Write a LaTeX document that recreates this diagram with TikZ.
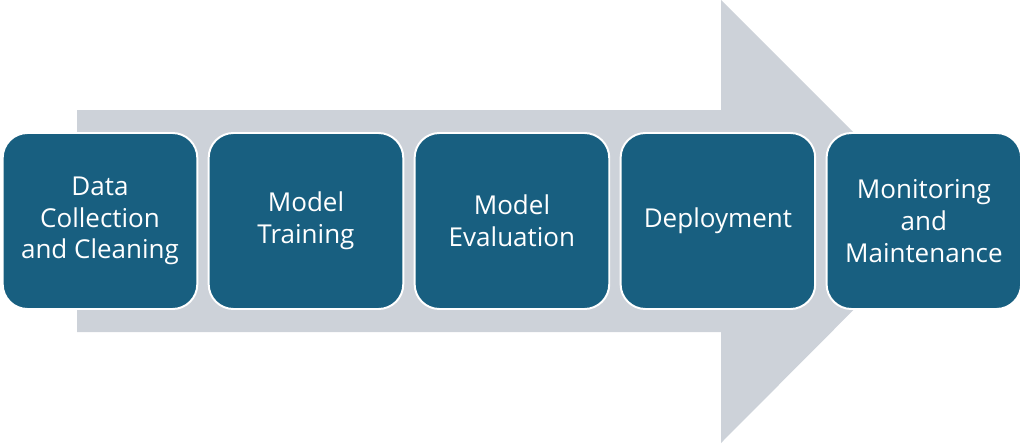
\documentclass[tikz,border=0pt]{standalone}
\usepackage{fontspec}
\setmainfont{Open Sans}
\usetikzlibrary{positioning}

\definecolor{stagefill}{HTML}{185F80}
\definecolor{flowgray}{HTML}{CDD2D9}

\tikzset{
    stage/.style={rectangle, rounded corners=0.62cm, fill=stagefill, draw=white,
        line width=1.4pt, text=white, align=center, font=\fontsize{18.5}{22.5}\selectfont,
        minimum width=4.865cm, minimum height=4.4cm, inner sep=2pt},
    flow/.style={fill=flowgray, draw=none}
}

\begin{document}
\begin{tikzpicture}
    \useasboundingbox (0,0) rectangle (25.6,11.075);
    % big arrow behind the stages
    \coordinate (tail top) at (1.925,8.325);
    \coordinate (tail bottom) at (1.925,2.775);
    \coordinate (tip) at (23.55,5.55);
    \fill[flow] (tail bottom) -- (tail top) -- (18.025,8.325) -- (18.025,11.075)
        -- (tip) -- (18.025,0) -- (18.025,2.775) -- cycle;

    \node[stage] (collect) at (2.50,5.55) {Data\\Collection\\and Cleaning};
    \node[stage, right=0.235cm of collect] (train) {Model\\Training};
    \node[stage, right=0.235cm of train] (evaluate) {Model\\Evaluation};
    \node[stage, right=0.235cm of evaluate] (deploy) {Deployment};
    \node[stage, right=0.235cm of deploy] (monitor) {Monitoring\\and\\Maintenance};
\end{tikzpicture}
\end{document}
